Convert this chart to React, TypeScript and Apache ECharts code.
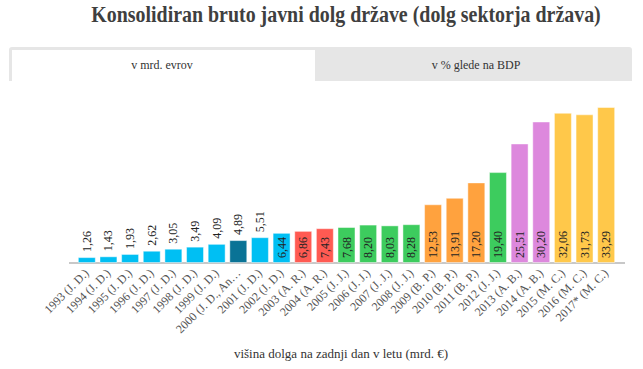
import React, { useEffect, useRef } from "react";
import * as echarts from "echarts";

const categories = [
  "1993 (J. D.)", "1994 (J. D.)", "1995 (J. D.)", "1996 (J. D.)", "1997 (J. D.)",
  "1998 (J. D.)", "1999 (J. D.)", "2000 (J. D., An. B.)", "2001 (J. D.)", "2002 (J. D.)",
  "2003 (A. R.)", "2004 (A. R.)", "2005 (J. J.)", "2006 (J. J.)", "2007 (J. J.)",
  "2008 (J. J.)", "2009 (B. P.)", "2010 (B. P.)", "2011 (B. P.)", "2012 (J. J.)",
  "2013 (A. B.)", "2014 (A. B.)", "2015 (M. C.)", "2016 (M. C.)", "2017* (M. C.)",
];
const debtValues = [
  1.26, 1.43, 1.93, 2.62, 3.05, 3.49, 4.09, 4.89, 5.51, 6.44,
  6.86, 7.43, 7.68, 8.2, 8.03, 8.28, 12.53, 13.91, 17.2, 19.4,
  25.51, 30.2, 32.06, 31.73, 33.29,
];
const leaders = [
  "JD", "JD", "JD", "JD", "JD", "JD", "JD", "JD+AB", "JD", "JD",
  "AR", "AR", "JJ", "JJ", "JJ", "JJ", "BP", "BP", "BP", "JJ",
  "AB", "AB", "MC", "MC", "MC",
];
const title = "Konsolidiran bruto javni dolg države (dolg sektorja država)";
const tabLabels = ["v mrd. evrov", "v % glede na BDP"];
const axisTitle = "višina dolga na zadnji dan v letu (mrd. €)";

const leaderColors: Record<string, string> = {
  JD: "#00bff3",
  "JD+AB": "#0a7396",
  AR: "#ff5a52",
  JJ: "#3dcc5e",
  BP: "#ffa23e",
  AB: "#dd88dd",
  MC: "#ffc84a",
};

const SERIF = "'Liberation Serif', 'DejaVu Serif', serif";

export default function App() {
  const ref = useRef<HTMLDivElement>(null);
  useEffect(() => {
    document.body.style.margin = "0";
    const chart = echarts.init(ref.current!, undefined, { renderer: "svg" });
    const fmt = (v: number) => v.toFixed(2).replace(".", ",");
    const data = debtValues.map((v, i) => ({
      value: v,
      itemStyle: { color: leaderColors[leaders[i]] },
      label:
        v >= 6
          ? { position: "insideBottom", distance: 5 }
          : { position: "top", distance: 5 },
    }));
    chart.setOption({
      animation: false,
      grid: { left: 76, right: 26, top: 99, bottom: 106, containLabel: false },
      xAxis: {
        type: "category",
        data: categories,
        axisLine: { show: false },
        axisTick: { show: false },
        axisLabel: {
          rotate: 45,
          margin: 8,
          interval: 0,
          fontFamily: SERIF,
          fontSize: 12,
          color: "#555",
          formatter: (v: string) => (v.length > 16 ? v.slice(0, 15) + "…" : v),
        },
      },
      yAxis: {
        type: "value",
        min: 0,
        max: 35,
        show: false,
      },
      series: [
        {
          type: "bar",
          data,
          barCategoryGap: "17%",
          itemStyle: { borderColor: "rgba(255,255,255,0.45)", borderWidth: 1 },
          label: {
            show: true,
            rotate: 90,
            align: "left",
            verticalAlign: "middle",
            fontFamily: SERIF,
            fontSize: 12,
            color: "#222",
            formatter: (p: any) => fmt(p.value),
          },
        },
      ],
      graphic: [
        {
          type: "text",
          x: 346,
          y: 14,
          scaleX: 0.83,
          style: {
            text: title,
            fontFamily: SERIF,
            fontSize: 24,
            fontWeight: "bold",
            fill: "#3f3f3f",
            align: "center",
            verticalAlign: "middle",
          },
        },
        {
          type: "rect",
          shape: { x: 9, y: 47, width: 623, height: 34, r: [3, 3, 0, 0] },
          style: { fill: "#e6e6e6" },
        },
        {
          type: "rect",
          shape: { x: 12, y: 50, width: 303, height: 32 },
          style: { fill: "#ffffff" },
        },
        {
          type: "text",
          x: 162,
          y: 65,
          style: {
            text: tabLabels[0],
            fontFamily: SERIF,
            fontSize: 12,
            fill: "#333",
            align: "center",
            verticalAlign: "middle",
          },
        },
        {
          type: "text",
          x: 476,
          y: 65,
          style: {
            text: tabLabels[1],
            fontFamily: SERIF,
            fontSize: 12,
            fill: "#333",
            align: "center",
            verticalAlign: "middle",
          },
        },
        {
          type: "line",
          shape: { x1: 69, y1: 263, x2: 625, y2: 263 },
          style: { stroke: "#c8c8c8", lineWidth: 2 },
        },
        {
          type: "text",
          x: 341,
          y: 353,
          style: {
            text: axisTitle,
            fontFamily: SERIF,
            fontSize: 13,
            fill: "#333",
            align: "center",
            verticalAlign: "middle",
          },
        },
      ],
    });
    return () => chart.dispose();
  }, []);
  return <div ref={ref} style={{ width: 643, height: 369 }} />;
}
